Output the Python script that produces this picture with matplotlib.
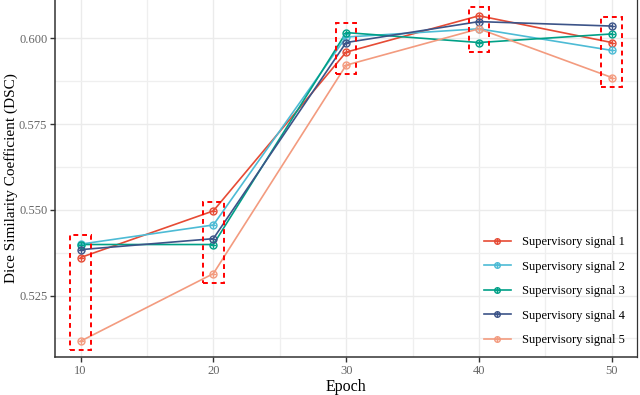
import matplotlib
matplotlib.use("Agg")
import matplotlib.pyplot as plt
from matplotlib.ticker import MultipleLocator
from matplotlib.legend_handler import HandlerTuple
from matplotlib.lines import Line2D
from matplotlib.patches import Rectangle
import numpy as np

epochs = [10, 20, 30, 40, 50]
series_names = ["Supervisory signal 1", "Supervisory signal 2", "Supervisory signal 3",
                "Supervisory signal 4", "Supervisory signal 5"]
signal1 = [0.5361, 0.5497, 0.5960, 0.6066, 0.5988]
signal2 = [0.5400, 0.5456, 0.6004, 0.6028, 0.5965]
signal3 = [0.5399, 0.5399, 0.6017, 0.5988, 0.6013]
signal4 = [0.5384, 0.5416, 0.5988, 0.6049, 0.6036]
signal5 = [0.5117, 0.5314, 0.5922, 0.6028, 0.5886]
colors = ["#E64B35", "#4DBBD5", "#00A087", "#3C5488", "#F39B7F"]

plt.rcParams['font.family'] = ['Liberation Serif', 'DejaVu Serif']

fig = plt.figure(figsize=(6.4, 3.95), dpi=100)
ax = fig.add_axes([55/640, 38/395, (637-55)/640, 1 - 38/395])

all_series = [signal1, signal2, signal3, signal4, signal5]
handles = []
for vals, c, name in zip(all_series, colors, series_names):
    ax.plot(epochs, vals, color=c, lw=1.2, zorder=3)
    ax.plot(epochs, vals, ls='none', marker='o', ms=5, mfc='none', mec=c, mew=1.0, zorder=4)
    ax.plot(epochs, vals, ls='none', marker='+', ms=5, mec=c, mew=1.0, zorder=4)
    h1 = Line2D([], [], color=c, lw=1.2, marker='o', ms=4, mfc='none', mec=c, mew=1.0)
    h2 = Line2D([], [], color=c, lw=0, marker='+', ms=4, mec=c, mew=1.0)
    handles.append((h1, h2))

# dashed highlight boxes around each epoch's points
arr = np.array(all_series)
half_w = 0.78
pad = 0.0027
for i, e in enumerate(epochs):
    lo = arr[:, i].min() - pad
    hi = arr[:, i].max() + pad
    ax.add_patch(Rectangle((e - half_w, lo), 2 * half_w, hi - lo, fill=False,
                           edgecolor='#FF0000', lw=1.4, ls=(0, (2.5, 2)), zorder=5))

ax.set_xlim(8.08, 51.9)
ax.set_ylim(0.5071, 0.6112)
ax.xaxis.set_major_locator(MultipleLocator(10))
ax.xaxis.set_minor_locator(MultipleLocator(5))
ax.yaxis.set_major_locator(MultipleLocator(0.025))
ax.yaxis.set_minor_locator(MultipleLocator(0.0125))
ax.yaxis.set_major_formatter(matplotlib.ticker.FormatStrFormatter('%.3f'))

ax.grid(which='major', color='#EBEBEB', lw=1.0, zorder=0)
ax.grid(which='minor', color='#EFEFEF', lw=0.9, zorder=0)
ax.set_axisbelow(True)
ax.tick_params(which='minor', length=0)
ax.tick_params(which='major', length=3.5, width=1.0, color='#333333',
               labelcolor='#666666', labelsize=9, pad=2)

for s in ['left', 'bottom']:
    ax.spines[s].set_color('#333333')
    ax.spines[s].set_linewidth(1.1)
ax.spines['right'].set_color('#333333')
ax.spines['right'].set_linewidth(0.9)
ax.spines['top'].set_visible(False)

ax.set_xlabel('Epoch', fontsize=11.5, labelpad=2)
ax.set_ylabel('Dice Similarity Coefficient (DSC)', fontsize=11, labelpad=0.5)

leg = ax.legend(handles, series_names, handler_map={tuple: HandlerTuple(ndivide=1)},
                loc='lower right', frameon=False, fontsize=9, handlelength=2.2,
                labelspacing=1.0, handletextpad=0.9, borderaxespad=0.3,
                bbox_to_anchor=(0.995, 0.006))

fig.savefig('out.png', dpi=100)
